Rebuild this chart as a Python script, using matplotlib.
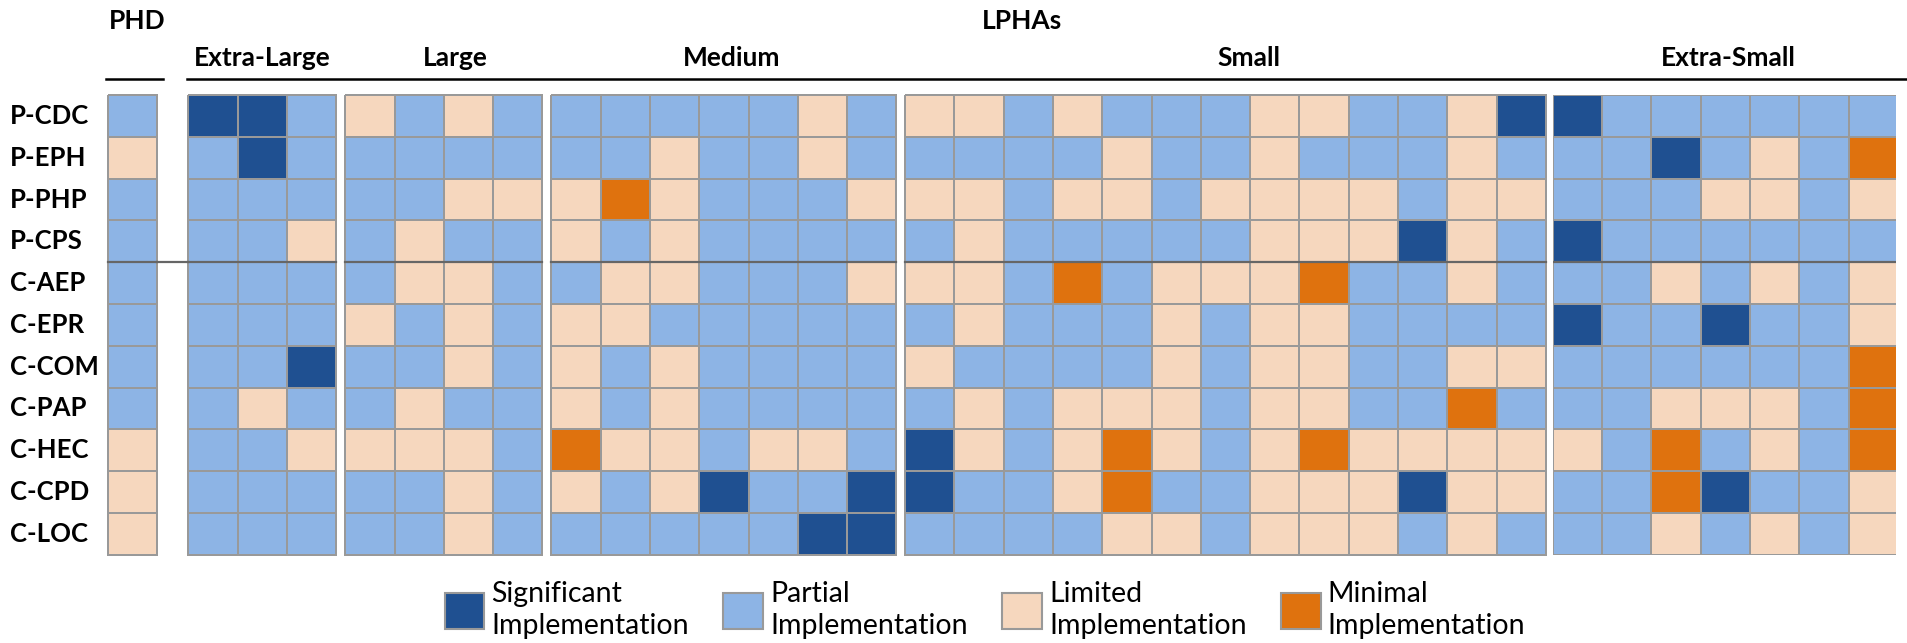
import matplotlib.pyplot as plt
import matplotlib.transforms as mtransforms
from matplotlib.colors import ListedColormap, BoundaryNorm
from matplotlib.patches import Patch
from matplotlib.lines import Line2D

plt.rcParams['font.family'] = ['Lato', 'DejaVu Sans']

# Implementation level codes: S significant, P partial, L limited, M minimal
measures = ["P-CDC", "P-EPH", "P-PHP", "P-CPS", "C-AEP", "C-EPR",
            "C-COM", "C-PAP", "C-HEC", "C-CPD", "C-LOC"]

phd = ["P", "L", "P", "P", "P", "P", "P", "P", "L", "L", "L"]
extra_large = ["SSP", "PSP", "PPP", "PPL", "PPP", "PPP",
               "PPS", "PLP", "PPL", "PPP", "PPP"]
large = ["LPLP", "PPPP", "PPLL", "PLPP", "PLLP", "LPLP",
         "PPLP", "PLPP", "LLLP", "PPLP", "PPLP"]
medium = ["PPPPPLP", "PPLPPLP", "LMLPPPL", "LPLPPPP", "PLLPPPL", "LLPPPPP",
          "LPLPPPP", "LPLPPPP", "MLLPLLP", "LPLSPPS", "PPPPPSS"]
small = ["LLPLPPPLLPPLS", "PPPPLPPLPPPLP", "LLPLLPLLLLPLL", "PLPPPPPLLLSLP",
         "LLPMPLLLMPPLP", "PLPPPLPLLPPPP", "LPPPPLPLLPPLL", "PLPLLLPLLPPMP",
         "SLPLMLPLMLLLL", "SPPLMPPLLLSLL", "PPPPLLPLLLPLP"]
extra_small = ["SPPPPPP", "PPSPLPM", "PPPLLPL", "SPPPPPP", "PPLPLPL", "SPPSPPL",
               "PPPPPPM", "PPLLLPM", "LPMPLPM", "PPMSPPL", "PPLPLPL"]

groups = [("PHD", phd), ("Extra-Large", extra_large), ("Large", large),
          ("Medium", medium), ("Small", small), ("Extra-Small", extra_small)]

level_codes = {"M": 0, "L": 1, "P": 2, "S": 3}
level_names = ["Minimal\nImplementation", "Limited\nImplementation",
               "Partial\nImplementation", "Significant\nImplementation"]
level_colors = ["#DF720E", "#F6D7BE", "#8DB4E5", "#1F5091"]

cmap = ListedColormap(level_colors)
norm = BoundaryNorm([-0.5, 0.5, 1.5, 2.5, 3.5], cmap.N)

# layout in pixels
W, H = 1908, 643
CELL_W = 49.3
ROW_H = 41.8
GRID_TOP = 95
FIRST_LEFT = 108
GAPS = [31, 9, 9, 8.5, 7]
RIGHT_CLIP = 1896
GRID_GREY = "#999999"
SEP_GREY = "#666666"

fig = plt.figure(figsize=(W / 100, H / 100), dpi=100)
nrows = len(measures)
grid_h = nrows * ROW_H

lefts = []
x = FIRST_LEFT
axes = []
for gi, (name, rows) in enumerate(groups):
    vals = [[level_codes[c] for c in row] for row in rows]
    ncols = len(vals[0])
    width = ncols * CELL_W
    clipped = x + width > RIGHT_CLIP
    if clipped:
        width = RIGHT_CLIP - x
    ax = fig.add_axes([x / W, 1 - (GRID_TOP + grid_h) / H, width / W, grid_h / H])
    mesh = ax.pcolormesh(vals, cmap=cmap, norm=norm,
                         edgecolors=GRID_GREY, linewidth=1.3)
    mesh.set_clip_on(clipped)
    ax.set_xlim(0, width / CELL_W)
    ax.set_ylim(nrows, 0)
    ax.axis("off")
    # split between P- and C- measures
    ax.axhline(4, color=SEP_GREY, lw=1.6, zorder=3, clip_on=clipped)
    lefts.append((x, x + width))
    axes.append(ax)
    if gi < len(GAPS):
        x += width + GAPS[gi]

# separator also runs across the gap after the PHD column
sep_y = 1 - (GRID_TOP + 4 * ROW_H) / H
fig.add_artist(Line2D([lefts[0][1] / W, lefts[1][0] / W], [sep_y, sep_y],
                      transform=fig.transFigure, color=SEP_GREY, lw=1.6))

# row labels
trans = mtransforms.blended_transform_factory(fig.transFigure, axes[0].transData)
for i, m in enumerate(measures):
    axes[0].text(10 / W, i + 0.5, m, transform=trans, ha="left", va="center",
                 fontsize=18.5, fontweight="bold", clip_on=False)

# headers
label_shift = [4, 0, 12, 8, 23, 4]
for (name, rows), (x0, x1), dx in zip(groups[1:], lefts[1:], label_shift[1:]):
    fig.text(((x0 + x1) / 2 + dx) / W, 1 - 58 / H, name, ha="center", va="center",
             fontsize=19, fontweight="bold")
fig.text(137 / W, 1 - 21 / H, "PHD", ha="center", va="center",
         fontsize=19, fontweight="bold")
fig.text(1022 / W, 1 - 21 / H, "LPHAs", ha="center", va="center",
         fontsize=19, fontweight="bold")

line_y = 1 - 79 / H
fig.add_artist(Line2D([106 / W, 163 / W], [line_y, line_y],
                      transform=fig.transFigure, color="black", lw=1.8))
fig.add_artist(Line2D([187 / W, 1907 / W], [line_y, line_y],
                      transform=fig.transFigure, color="black", lw=1.8))

handles = [Patch(facecolor=level_colors[k], edgecolor=GRID_GREY, lw=1.5,
                 label=level_names[k]) for k in [3, 2, 1, 0]]
leg = fig.legend(handles=handles, loc="lower center", bbox_to_anchor=(985 / W, 4 / H),
                 ncol=4, frameon=False, fontsize=20.5, handlelength=1.4,
                 handleheight=1.6, handletextpad=0.25, columnspacing=1.2,
                 borderaxespad=0, borderpad=0)
for t in leg.get_texts():
    t.set_linespacing(1.3)

fig.savefig("out.png", dpi=100)
